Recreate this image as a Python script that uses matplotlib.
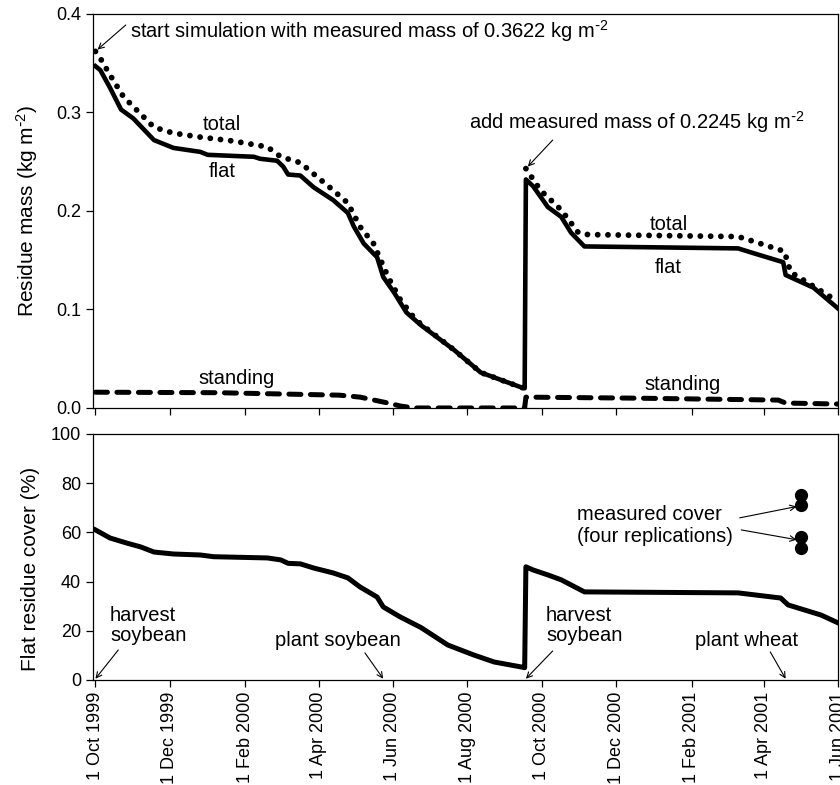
import numpy as np
import matplotlib
matplotlib.use("Agg")
import matplotlib.pyplot as plt
import matplotlib.dates as mdates

plt.rcParams['font.family'] = ['Liberation Sans', 'DejaVu Sans']
plt.rcParams['mathtext.default'] = 'regular'

START = np.datetime64('1999-10-01')

# ---- data (days since 1 Oct 1999) ----
flat_days = [0, 4, 12, 21, 31, 48, 64, 86, 92, 130, 135, 149, 154, 158, 168, 179, 195,
             207, 212, 220, 231, 236, 245, 255, 267, 294, 316, 349, 352,
             353, 359, 371, 382, 390, 401, 527, 540, 564, 566, 589, 609]
flat_mass = [0.347, 0.343, 0.325, 0.303, 0.294, 0.272, 0.264, 0.260, 0.257, 0.255, 0.253,
             0.251, 0.245, 0.237, 0.236, 0.224, 0.211, 0.198, 0.184, 0.167, 0.153, 0.133,
             0.117, 0.097, 0.084, 0.059, 0.036, 0.021, 0.020,
             0.232, 0.225, 0.204, 0.194, 0.178, 0.164, 0.162, 0.157, 0.148, 0.135, 0.122, 0.101]

total_days = [0, 4, 12, 23, 31, 48, 64, 86, 113, 141, 152, 168, 195, 207, 217, 228, 240,
              250, 261, 267, 294, 316, 349, 352,
              353, 365, 382, 396, 404, 527, 540, 565, 570, 609]
total_mass = [0.362, 0.355, 0.338, 0.316, 0.306, 0.285, 0.279, 0.275, 0.271, 0.265, 0.255,
              0.249, 0.221, 0.208, 0.184, 0.167, 0.133, 0.110, 0.092, 0.085, 0.059, 0.036,
              0.021, 0.020,
              0.243, 0.221, 0.201, 0.178, 0.176, 0.174, 0.169, 0.159, 0.138, 0.108]

standing_days = [0, 100, 200, 217, 240, 250, 261, 352, 353, 440, 560, 566, 609]
standing_mass = [0.016, 0.0155, 0.013, 0.011, 0.005, 0.002, 0.000, 0.000,
                 0.011, 0.010, 0.008, 0.005, 0.004]

cover_days = [0, 12, 26, 37, 48, 64, 86, 97, 141, 152, 158, 168, 179, 195, 207, 217, 231,
              236, 250, 267, 289, 310, 327, 349, 352,
              353, 359, 371, 382, 401, 527, 562, 568, 595, 609]
cover_pct = [61.0, 57.7, 55.6, 54.1, 52.0, 51.2, 50.8, 50.1, 49.6, 48.8, 47.4, 47.2, 45.5,
             43.5, 41.5, 37.8, 33.7, 29.7, 25.6, 21.3, 14.2, 10.2, 7.3, 5.3, 5.0,
             46.0, 44.7, 42.7, 40.7, 35.8, 35.4, 33.3, 30.5, 26.4, 23.2]

measured_day = [579, 579, 579, 579]
measured_cover = [75.0, 71.3, 58.0, 53.5]

event_days = {'harvest1': 0, 'plant_soy': 236, 'harvest2': 353, 'plant_wheat': 566}

tick_dates = ['1999-10-01', '1999-12-01', '2000-02-01', '2000-04-01', '2000-06-01',
              '2000-08-01', '2000-10-01', '2000-12-01', '2001-02-01', '2001-04-01',
              '2001-06-01']


def to_dates(days):
    return START + np.array(days, dtype='timedelta64[D]')


fig = plt.figure(figsize=(8.4, 7.85), dpi=100)
ax1 = fig.add_axes([0.1107, 0.4803, 0.887, 0.5019])
ax2 = fig.add_axes([0.1107, 0.1338, 0.887, 0.3134])

# top panel: total drawn in two pieces (before / after the residue addition)
split = total_days.index(event_days['harvest2'])
for sl in (slice(0, split), slice(split, None)):
    ax1.plot(to_dates(total_days[sl]), total_mass[sl], color='black', lw=4.2,
             linestyle=(0, (0.01, 1.75)), dash_capstyle='round')
ax1.plot(to_dates(standing_days), standing_mass, color='black', lw=3.6,
         linestyle=(0, (2.4, 1.9)), dash_capstyle='round')
ax1.plot(to_dates(flat_days), flat_mass, color='black', lw=3.3, solid_joinstyle='round')

# bottom panel
ax2.plot(to_dates(cover_days), cover_pct, color='black', lw=3.6, solid_joinstyle='round')
ax2.plot(to_dates(measured_day), measured_cover, 'o', color='black', ms=8.5)

xmin = START - np.timedelta64(2, 'D')
xmax = np.datetime64('2001-06-01')
ticks = np.array(tick_dates, dtype='datetime64[D]')
for ax in (ax1, ax2):
    ax.set_xlim(xmin, xmax)
    ax.set_xticks(ticks)
    ax.tick_params(direction='out', length=5, width=0.9, labelsize=13, top=False, right=False)
    for s in ax.spines.values():
        s.set_linewidth(0.9)
ax1.set_xticklabels([])
ax2.xaxis.set_major_formatter(mdates.DateFormatter('1 %b %Y'))
plt.setp(ax2.get_xticklabels(), rotation=90)

ax1.set_ylim(0, 0.4)
ax1.set_yticks([0.0, 0.1, 0.2, 0.3, 0.4])
ax1.set_yticklabels(['0.0', '0.1', '0.2', '0.3', '0.4'])
ax2.set_ylim(0, 100)
ax2.set_yticks([0, 20, 40, 60, 80, 100])

unit = r'kg m$^{\text{-}2}$'
ax1.set_ylabel('Residue mass (' + unit + ')', fontsize=15)
ax2.set_ylabel('Flat residue cover (%)', fontsize=15)
ax1.yaxis.set_label_coords(-0.071, 0.5)
ax2.yaxis.set_label_coords(-0.071, 0.45)

fs = 14.5
arrow = dict(arrowstyle='->', lw=0.8, color='black', shrinkA=0, shrinkB=2)

# top annotations (axes fraction positions)
ax1.text(0.0497, 0.939, 'start simulation with measured mass of 0.3622 ' + unit,
         transform=ax1.transAxes, fontsize=fs, va='baseline')
ax1.annotate('', xy=(to_dates([0])[0], total_mass[0]), xytext=(0.044, 0.972),
             textcoords='axes fraction', arrowprops=arrow)
ax1.text(0.173, 0.706, 'total', transform=ax1.transAxes, fontsize=fs, ha='center', va='baseline')
ax1.text(0.173, 0.586, 'flat', transform=ax1.transAxes, fontsize=fs, ha='center', va='baseline')
ax1.text(0.193, 0.061, 'standing', transform=ax1.transAxes, fontsize=fs, ha='center', va='baseline')

ax1.text(0.505, 0.708, 'add measured mass of 0.2245 ' + unit,
         transform=ax1.transAxes, fontsize=fs, va='baseline')
ax1.annotate('', xy=(to_dates([event_days['harvest2']])[0], total_mass[split]),
             xytext=(0.617, 0.680), textcoords='axes fraction', arrowprops=arrow)
ax1.text(0.773, 0.452, 'total', transform=ax1.transAxes, fontsize=fs, ha='center', va='baseline')
ax1.text(0.772, 0.343, 'flat', transform=ax1.transAxes, fontsize=fs, ha='center', va='baseline')
ax1.text(0.791, 0.045, 'standing', transform=ax1.transAxes, fontsize=fs, ha='center', va='baseline')

# bottom annotations
arrow2 = dict(arrowstyle='->', lw=0.8, color='black', shrinkA=0, shrinkB=0)
ax2.text(0.0228, 0.238, 'harvest', transform=ax2.transAxes, fontsize=fs, va='baseline')
ax2.text(0.0228, 0.160, 'soybean', transform=ax2.transAxes, fontsize=fs, va='baseline')
ax2.annotate('', xy=(to_dates([event_days['harvest1']])[0], 0.5), xytext=(0.034, 0.122),
             textcoords='axes fraction', arrowprops=arrow2)

ax2.text(0.244, 0.138, 'plant soybean', transform=ax2.transAxes, fontsize=fs, va='baseline')
ax2.annotate('', xy=(to_dates([event_days['plant_soy']])[0], 0.5), xytext=(0.365, 0.110),
             textcoords='axes fraction', arrowprops=arrow2)

ax2.text(0.608, 0.238, 'harvest', transform=ax2.transAxes, fontsize=fs, va='baseline')
ax2.text(0.608, 0.160, 'soybean', transform=ax2.transAxes, fontsize=fs, va='baseline')
ax2.annotate('', xy=(to_dates([event_days['harvest2']])[0], 0.5), xytext=(0.617, 0.118),
             textcoords='axes fraction', arrowprops=arrow2)

ax2.text(0.808, 0.138, 'plant wheat', transform=ax2.transAxes, fontsize=fs, va='baseline')
ax2.annotate('', xy=(to_dates([event_days['plant_wheat']])[0], 0.5), xytext=(0.909, 0.114),
             textcoords='axes fraction', arrowprops=arrow2)

ax2.text(0.650, 0.652, 'measured cover', transform=ax2.transAxes, fontsize=fs, va='baseline')
ax2.text(0.650, 0.561, '(four replications)', transform=ax2.transAxes, fontsize=fs, va='baseline')
ax2.annotate('', xy=(to_dates([575])[0], 70.5), xytext=(0.868, 0.659),
             textcoords='axes fraction', arrowprops=arrow2)
ax2.annotate('', xy=(to_dates([575])[0], 57.0), xytext=(0.870, 0.610),
             textcoords='axes fraction', arrowprops=arrow2)

fig.savefig('out.png', dpi=100)
